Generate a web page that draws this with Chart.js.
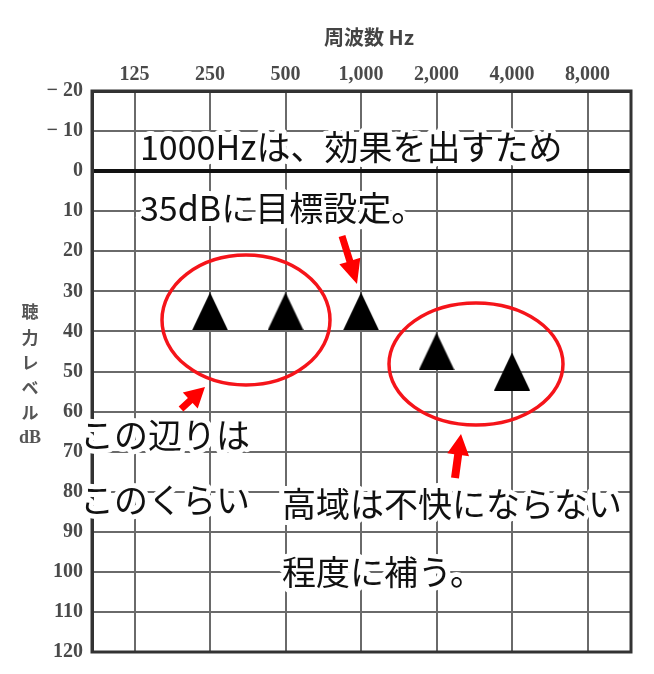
<!DOCTYPE html>
<html><head><meta charset="utf-8">
<script src="https://cdn.jsdelivr.net/npm/chart.js@4/dist/chart.umd.min.js"></script>
<style>html,body{margin:0;padding:0;background:#fff;overflow:hidden}</style>
</head><body>
<canvas id="c" width="654" height="674" style="width:654px;height:674px;display:block"></canvas>
<script>
// ---- data ----
const freqLabels = ['125', '250', '500', '1,000', '2,000', '4,000', '8,000'];
const testedFreqs = ['250', '500', '1,000', '2,000', '4,000'];
const hearingLevels = [35, 35, 35, 45, 50];
const yTickValues = [-20, -10, 0, 10, 20, 30, 40, 50, 60, 70, 80, 90, 100, 110, 120];
const xTitleText = '周波数 Hz';
const yTitleChars = ['聴', '力', 'レ', 'ベ', 'ル', 'dB'];
const noteTexts = ['1000Hzは、効果を出すため', '35dBに目標設定。', 'この辺りは', 'このくらい', '高域は不快にならない', '程度に補う。'];

// ---- styling / layout ----
const notePos = [[140,147],[140,208],[80,435],[80,500],[282,504],[282,572]];
const serif = '"Liberation Serif", "DejaVu Serif", serif';
const cjk = '"Noto Sans CJK JP", "Noto Sans", sans-serif';

// triangle marker image
const tri = document.createElement('canvas');
tri.width = 36; tri.height = 38;
(function(){
  const g = tri.getContext('2d');
  g.fillStyle = '#000';
  g.beginPath(); g.moveTo(18, 0); g.lineTo(36, 38); g.lineTo(0, 38); g.closePath(); g.fill();
})();

function arrow(ctx, x1, y1, x2, y2, sw, hl, hw) {
  const dx = x2 - x1, dy = y2 - y1, L = Math.hypot(dx, dy);
  const ux = dx / L, uy = dy / L, nx = -uy, ny = ux;
  const bx = x2 - ux * hl, by = y2 - uy * hl;
  ctx.beginPath();
  ctx.moveTo(x1 + nx * sw / 2, y1 + ny * sw / 2);
  ctx.lineTo(bx + nx * sw / 2, by + ny * sw / 2);
  ctx.lineTo(bx + nx * hw / 2, by + ny * hw / 2);
  ctx.lineTo(x2, y2);
  ctx.lineTo(bx - nx * hw / 2, by - ny * hw / 2);
  ctx.lineTo(bx - nx * sw / 2, by - ny * sw / 2);
  ctx.lineTo(x1 - nx * sw / 2, y1 - ny * sw / 2);
  ctx.closePath();
  ctx.fill();
}

const decor = {
  id: 'decor',
  afterDraw(chart) {
    const ctx = chart.ctx, a = chart.chartArea;
    ctx.save();
    // frame
    ctx.strokeStyle = '#333'; ctx.lineWidth = 3;
    ctx.strokeRect(a.left, a.top, a.right - a.left, a.bottom - a.top);
    // x title
    ctx.fillStyle = '#444';
    ctx.font = 'bold 20px ' + cjk;
    ctx.textAlign = 'center'; ctx.textBaseline = 'middle';
    ctx.fillText(xTitleText, 369, 37);
    // y title (vertical)
    ctx.fillStyle = '#555';
    yTitleChars.forEach((ch, i) => {
      ctx.font = (ch === 'dB' ? 'bold 18px ' + serif : 'bold 17px ' + cjk);
      ctx.fillText(ch, 30, 312 + i * 25.2);
    });
    // ellipses
    ctx.strokeStyle = '#f5141a'; ctx.lineWidth = 3.5;
    ctx.beginPath(); ctx.ellipse(246, 320, 84, 65, 0, 0, Math.PI * 2); ctx.stroke();
    ctx.beginPath(); ctx.ellipse(476, 364, 87, 61, 0, 0, Math.PI * 2); ctx.stroke();
    // arrows
    ctx.fillStyle = '#ff0000';
    arrow(ctx, 342, 236, 357, 284, 7, 24, 22);
    arrow(ctx, 181, 409, 205, 387, 7, 20, 22);
    arrow(ctx, 455, 478, 461, 434, 8, 21, 22);
    // notes
    ctx.font = '34px ' + cjk;
    ctx.textAlign = 'left'; ctx.textBaseline = 'middle';
    ctx.lineJoin = 'round';
    noteTexts.forEach((t, i) => {
      const [x, y] = notePos[i];
      ctx.strokeStyle = '#fff'; ctx.lineWidth = 10;
      ctx.strokeText(t, x, y);
      ctx.fillStyle = '#111';
      ctx.fillText(t, x, y);
    });
    ctx.restore();
  }
};

new Chart(document.getElementById('c'), {
  type: 'scatter',
  data: {
    datasets: [{
      data: testedFreqs.map((f, i) => ({ x: freqLabels.indexOf(f), y: hearingLevels[i] })),
      pointStyle: tri,
      pointRadius: 18,
      showLine: false
    }]
  },
  options: {
    responsive: false,
    animation: false,
    devicePixelRatio: 1,
    layout: { padding: { left: 0, top: 0, right: 23, bottom: 22 } },
    plugins: { legend: { display: false }, tooltip: { enabled: false } },
    scales: {
      x: {
        type: 'linear', position: 'top',
        min: -0.563, max: 6.576,
        afterBuildTicks: s => { s.ticks = freqLabels.map((_, i) => ({ value: i })); },
        afterFit: s => { s.height = 91; },
        ticks: {
          callback: v => freqLabels[v],
          font: { family: serif, size: 20, weight: 'bold' },
          color: '#4a4a4a', padding: 4, autoSkip: false, maxRotation: 0
        },
        grid: { color: '#6a6a6a', lineWidth: 2, drawTicks: false },
        border: { display: true, color: '#333', width: 3 },
        title: { display: false }
      },
      y: {
        type: 'linear', reverse: true,
        min: -20, max: 120,
        afterBuildTicks: s => { s.ticks = yTickValues.map(v => ({ value: v })); },
        afterFit: s => { s.width = 92; },
        ticks: {
          callback: v => (v < 0 ? '− ' + Math.abs(v) : String(v)),
          font: { family: serif, size: 20, weight: 'bold' },
          color: '#4a4a4a', padding: 9, autoSkip: false
        },
        grid: {
          color: c => (c.tick && c.tick.value === 0 ? '#111' : '#6a6a6a'),
          lineWidth: c => (c.tick && c.tick.value === 0 ? 4 : 2),
          drawTicks: false
        },
        border: { display: true, color: '#333', width: 3 }
      }
    }
  },
  plugins: [decor]
});
</script>
</body></html>
